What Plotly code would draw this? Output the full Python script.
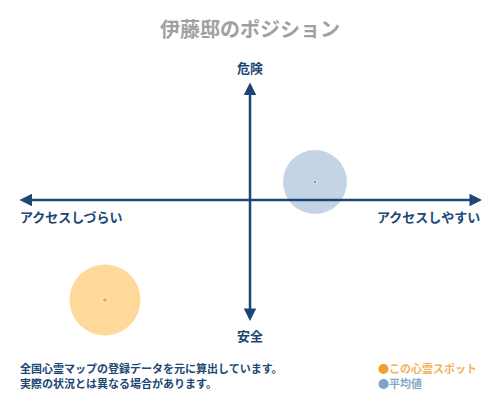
import plotly.graph_objects as go

# position scores: x = access (negative = hard to access), y = danger
spot_names = ["この心霊スポット", "平均値"]
access = [-0.625, 0.28]
danger = [-0.833, 0.15]
fill_colors = ["#fec96f", "#adc2da"]
dot_colors = ["#f0a030", "#1e2e40"]

axis_x = [-1.0, 1.0]
axis_y = [-1.02, 0.98]

title = "伊藤邸のポジション"
label_top = "危険"
label_bottom = "安全"
label_left = "アクセスしづらい"
label_right = "アクセスしやすい"
note_lines = ["全国心霊マップの登録データを元に算出しています。",
              "実際の状況とは異なる場合があります。"]

NAVY = "#1c4673"
FONT = "Noto Sans CJK JP"

fig = go.Figure()

# big translucent circles
fig.add_trace(go.Scatter(
    x=access, y=danger, mode="markers",
    marker=dict(size=[71, 64], color=fill_colors, line=dict(width=0)),
    hoverinfo="skip", showlegend=False))
# tiny centre dots
fig.add_trace(go.Scatter(
    x=access, y=danger, mode="markers",
    marker=dict(size=[5, 3], color=dot_colors, symbol=["diamond", "circle"]),
    hoverinfo="skip", showlegend=False))

# axis arrows
arrow = dict(text="", showarrow=True, xref="x", yref="y", axref="x", ayref="y",
             arrowhead=2, arrowsize=1, arrowwidth=2.5, arrowcolor=NAVY,
             arrowside="end+start", standoff=0, startstandoff=0)
fig.add_annotation(x=axis_x[1], y=0, ax=axis_x[0], ay=0, **arrow)
fig.add_annotation(x=0, y=axis_y[1], ax=0, ay=axis_y[0], **arrow)

lab = dict(showarrow=False, font=dict(family=FONT, size=13, color=NAVY, weight="bold"))
fig.add_annotation(x=0, y=axis_y[1], yshift=15, text=label_top, xanchor="center", yanchor="middle", **lab)
fig.add_annotation(x=0, y=axis_y[0], yshift=-13, text=label_bottom, xanchor="center", yanchor="middle", **lab)
fig.add_annotation(x=axis_x[0], y=0, yshift=-16, text=label_left, xanchor="left", yanchor="middle", **lab)
fig.add_annotation(x=axis_x[1], y=0, yshift=-16, text=label_right, xanchor="right", yanchor="middle", **lab)

# footnote
for i, line in enumerate(note_lines):
    fig.add_annotation(xref="paper", yref="paper", x=18 / 500, y=1 - (368 + 15 * i) / 400,
                       text=line, showarrow=False, xanchor="left", yanchor="middle",
                       font=dict(family=FONT, size=11, color=NAVY, weight="bold"))

# legend (drawn as text)
legend_text_colors = ["#f2b15a", "#86a7c6"]
legend_dot_colors = ["#f0a030", "#7ea2c6"]
for i, name in enumerate(spot_names):
    fig.add_annotation(xref="paper", yref="paper", x=376 / 500, y=1 - (368 + 15 * i) / 400,
                       text=f"<span style='color:{legend_dot_colors[i]}'>●</span>"
                            f"<span style='color:{legend_text_colors[i]}'>{name}</span>",
                       showarrow=False, xanchor="left", yanchor="middle",
                       font=dict(family=FONT, size=11, weight="bold"))

fig.update_layout(
    title=dict(text=title, x=0.5, xanchor="center", y=1 - 30 / 400, yanchor="middle",
               font=dict(family=FONT, size=20, color="#a0a0a0", weight="bold")),
    width=500, height=400, margin=dict(l=0, r=0, t=0, b=0),
    paper_bgcolor="white", plot_bgcolor="white",
    xaxis=dict(range=[-250 / 232, 250 / 232], visible=False, fixedrange=True),
    yaxis=dict(range=[-200 / 120, 200 / 120], visible=False, fixedrange=True),
)

# drop the browser's default body margin so the chart sits at the page corner
fig.write_html("out.html", config={"displayModeBar": False},
               post_script="document.body.style.margin='0';")
